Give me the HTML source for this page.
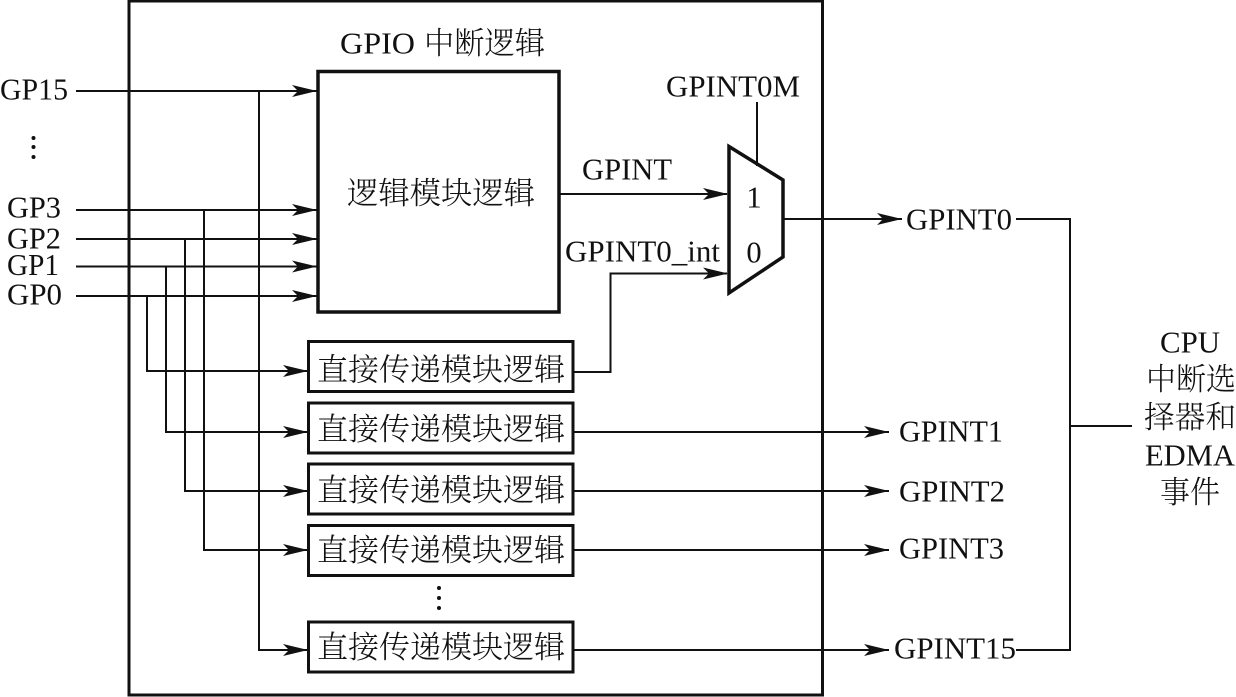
<!DOCTYPE html>
<html lang="zh">
<head>
<meta charset="utf-8">
<title>GPIO 中断逻辑</title>
<style>
html,body{margin:0;padding:0;background:#fff;width:1236px;height:697px;overflow:hidden}
svg{display:block}
text{font-family:"Liberation Serif","Noto Serif CJK SC",serif;fill:#111;font-size:30.5px}
.cn{font-family:"Noto Serif CJK SC","Liberation Serif",serif;font-size:31px;font-weight:300}
.b{fill:#fff;stroke:#111;stroke-width:3}
.l{fill:none;stroke:#111;stroke-width:2}
.a{fill:#111}
</style>
</head>
<body>
<svg width="1236" height="697" viewBox="0 0 1236 697" xmlns="http://www.w3.org/2000/svg">
<defs>
<polygon id="h" class="a" points="0,0 -25,-6 -19,0 -25,6"/>
</defs>
<rect x="129" y="1" width="693.5" height="694" fill="#fff" stroke="#111" stroke-width="3"/>
<path class="l" d="M76 91H317M76 210H317M76 239H317M76 266.500H317M76 296H317"/>
<path class="l" d="M259 91V650H308M204 210V550H308M185 239V491H308M166 266.500V432H308M147 296V371H308"/>
<path class="l" d="M559 194H727M574 372H610.500V273.500H727M574 432H889M574 491H889M574 550H889M574 650H889M783 219H902"/>
<path class="l" d="M757 102V166M1016 219H1070V650H1016M1070 426H1132"/>
<rect class="b" x="318" y="71.500" width="241" height="240.500" style="stroke-width:3.500"/>
<rect class="b" x="308.500" y="341.500" width="264.500" height="50"/>
<rect class="b" x="308.500" y="403" width="264.500" height="50"/>
<rect class="b" x="308.500" y="464" width="264.500" height="50"/>
<rect class="b" x="308.500" y="525.500" width="264.500" height="50"/>
<rect class="b" x="308.500" y="622" width="264.500" height="50"/>
<polygon points="729,146.500 783,180 783,257 729,293" fill="none" stroke="#111" stroke-width="3.500"/>
<use href="#h" x="317" y="91"/><use href="#h" x="317" y="210"/><use href="#h" x="317" y="239"/><use href="#h" x="317" y="266.500"/><use href="#h" x="317" y="296"/>
<use href="#h" x="308" y="371"/><use href="#h" x="308" y="432"/><use href="#h" x="308" y="491"/><use href="#h" x="308" y="550"/><use href="#h" x="308" y="650"/>
<use href="#h" x="728" y="194"/><use href="#h" x="728" y="273.500"/><use href="#h" x="902" y="219"/>
<use href="#h" x="889" y="432"/><use href="#h" x="889" y="491"/><use href="#h" x="889" y="550"/><use href="#h" x="889" y="650"/>
<circle class="a" cx="33.500" cy="138" r="2"/><circle class="a" cx="33.500" cy="147" r="2"/><circle class="a" cx="33.500" cy="157" r="2"/>
<circle class="a" cx="439" cy="588" r="2"/><circle class="a" cx="439" cy="598" r="2"/><circle class="a" cx="439" cy="608" r="2"/>
<text x="0" y="99.500" textLength="68" lengthAdjust="spacingAndGlyphs">GP15</text>
<text x="7" y="217.500" textLength="54" lengthAdjust="spacingAndGlyphs">GP3</text>
<text x="7" y="248.500" textLength="54" lengthAdjust="spacingAndGlyphs">GP2</text>
<text x="7" y="275" textLength="52" lengthAdjust="spacingAndGlyphs">GP1</text>
<text x="7" y="304.500" textLength="55" lengthAdjust="spacingAndGlyphs">GP0</text>
<text x="340" y="53.500" textLength="75" lengthAdjust="spacingAndGlyphs">GPIO</text>
<text class="cn" x="424" y="54" textLength="121" lengthAdjust="spacingAndGlyphs">中断逻辑</text>
<text class="cn" x="347" y="204" textLength="188" lengthAdjust="spacingAndGlyphs">逻辑模块逻辑</text>
<text x="666" y="96.500" textLength="134" lengthAdjust="spacingAndGlyphs">GPINT0M</text>
<text x="582" y="179.500" textLength="90" lengthAdjust="spacingAndGlyphs">GPINT</text>
<text x="565" y="261.500" textLength="155" lengthAdjust="spacingAndGlyphs">GPINT0_int</text>
<text x="754" y="207.500" text-anchor="middle">1</text>
<text x="754" y="262.500" text-anchor="middle">0</text>
<text class="cn" x="317" y="380.500" textLength="248" lengthAdjust="spacingAndGlyphs">直接传递模块逻辑</text>
<text class="cn" x="317" y="440" textLength="248" lengthAdjust="spacingAndGlyphs">直接传递模块逻辑</text>
<text class="cn" x="317" y="501" textLength="248" lengthAdjust="spacingAndGlyphs">直接传递模块逻辑</text>
<text class="cn" x="317" y="561" textLength="248" lengthAdjust="spacingAndGlyphs">直接传递模块逻辑</text>
<text class="cn" x="317" y="658" textLength="248" lengthAdjust="spacingAndGlyphs">直接传递模块逻辑</text>
<text x="906" y="229.500" textLength="106" lengthAdjust="spacingAndGlyphs">GPINT0</text>
<text x="899" y="441.500" textLength="104" lengthAdjust="spacingAndGlyphs">GPINT1</text>
<text x="899" y="501.500" textLength="106" lengthAdjust="spacingAndGlyphs">GPINT2</text>
<text x="899" y="558.500" textLength="105" lengthAdjust="spacingAndGlyphs">GPINT3</text>
<text x="894" y="658.500" textLength="122" lengthAdjust="spacingAndGlyphs">GPINT15</text>
<text x="1160" y="352.500" textLength="60" lengthAdjust="spacingAndGlyphs">CPU</text>
<text class="cn" x="1146" y="390" textLength="90" lengthAdjust="spacingAndGlyphs">中断选</text>
<text class="cn" x="1144" y="428" textLength="92" lengthAdjust="spacingAndGlyphs">择器和</text>
<text x="1145" y="465.500" textLength="90" lengthAdjust="spacingAndGlyphs">EDMA</text>
<text class="cn" x="1160" y="503" textLength="60" lengthAdjust="spacingAndGlyphs">事件</text>
</svg>
</body>
</html>
